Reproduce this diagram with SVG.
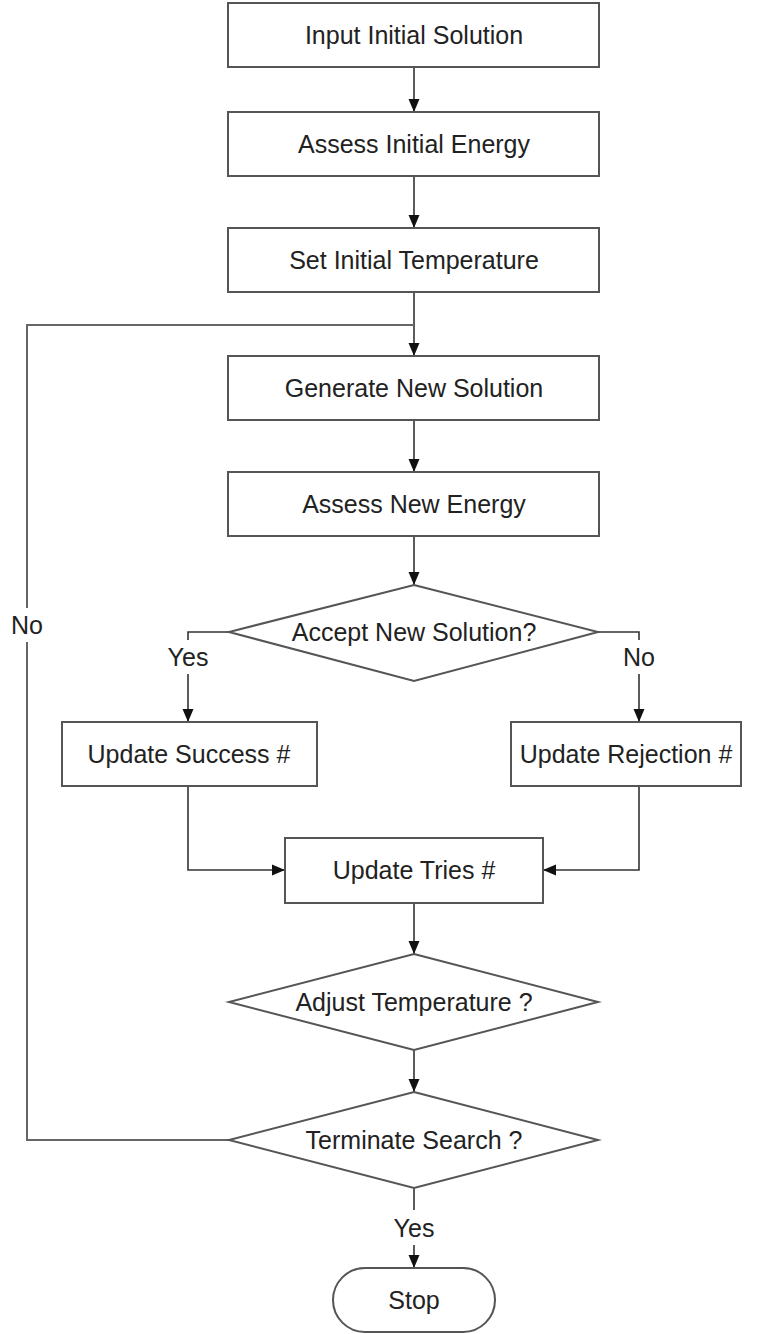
<svg xmlns="http://www.w3.org/2000/svg" width="761" height="1334" viewBox="0 0 761 1334">
<style>
.box{fill:#fff;stroke:#555;stroke-width:2}
.t{font-family:"Liberation Sans",Arial,sans-serif;font-size:25px;fill:#222;text-anchor:middle}
.c{fill:none;stroke:#333;stroke-width:1.6}
.loop{fill:none;stroke:#666;stroke-width:2}
</style>
<defs>
<marker id="arr" markerUnits="userSpaceOnUse" markerWidth="14" markerHeight="12" refX="13" refY="6" orient="auto">
<path d="M0,0.5 L13,6 L0,11.5 z" fill="#111"/>
</marker>
</defs>
<rect width="761" height="1334" fill="#fff"/>
<g id="connectors">
<path class="c" d="M414,67 V112" marker-end="url(#arr)"/>
<path class="c" d="M414,176 V228" marker-end="url(#arr)"/>
<path class="c" d="M414,292 V356" marker-end="url(#arr)"/>
<path class="loop" d="M229,1140 H27 V642"/>
<path class="loop" d="M27,608 V325 H414"/>
<path class="c" d="M414,420 V472" marker-end="url(#arr)"/>
<path class="c" d="M414,536 V585" marker-end="url(#arr)"/>
<path class="c" d="M229,632 H188 V640"/>
<path class="c" d="M188,674 V722" marker-end="url(#arr)"/>
<path class="c" d="M598,632 H639 V640"/>
<path class="c" d="M639,674 V722" marker-end="url(#arr)"/>
<path class="c" d="M188,786 V870 H285" marker-end="url(#arr)"/>
<path class="c" d="M639,786 V870 H543" marker-end="url(#arr)"/>
<path class="c" d="M414,903 V954" marker-end="url(#arr)"/>
<path class="c" d="M414,1050 V1092" marker-end="url(#arr)"/>
<path class="c" d="M414,1188 V1210"/>
<path class="c" d="M414,1245 V1268" marker-end="url(#arr)"/>
<text class="t" x="27" y="634">No</text>
<text class="t" x="188" y="666">Yes</text>
<text class="t" x="639" y="666">No</text>
<text class="t" x="414" y="1237">Yes</text>
</g>
<g id="n1"><rect class="box" x="228" y="3" width="371" height="64"/><text class="t" x="414" y="44">Input Initial Solution</text></g>
<g id="n2"><rect class="box" x="228" y="112" width="371" height="64"/><text class="t" x="414" y="153">Assess Initial Energy</text></g>
<g id="n3"><rect class="box" x="228" y="228" width="371" height="64"/><text class="t" x="414" y="269">Set Initial Temperature</text></g>
<g id="n4"><rect class="box" x="228" y="356" width="371" height="64"/><text class="t" x="414" y="397">Generate New Solution</text></g>
<g id="n5"><rect class="box" x="228" y="472" width="371" height="64"/><text class="t" x="414" y="513">Assess New Energy</text></g>
<g id="d1"><polygon class="box" points="414,585 598,632 414,681 229,632"/><text class="t" x="414" y="641">Accept New Solution?</text></g>
<g id="n6"><rect class="box" x="62" y="722" width="255" height="64"/><text class="t" x="189" y="763">Update Success #</text></g>
<g id="n7"><rect class="box" x="511" y="722" width="230" height="64"/><text class="t" x="626" y="763">Update Rejection #</text></g>
<g id="n8"><rect class="box" x="285" y="838" width="258" height="65"/><text class="t" x="414" y="879">Update Tries #</text></g>
<g id="d2"><polygon class="box" points="414,954 598,1002 414,1050 229,1002"/><text class="t" x="414" y="1011">Adjust Temperature ?</text></g>
<g id="d3"><polygon class="box" points="414,1092 598,1140 414,1188 229,1140"/><text class="t" x="414" y="1149">Terminate Search ?</text></g>
<g id="stop"><rect class="box" x="333" y="1268" width="162" height="64" rx="32" ry="32"/><text class="t" x="414" y="1309">Stop</text></g>
</svg>
